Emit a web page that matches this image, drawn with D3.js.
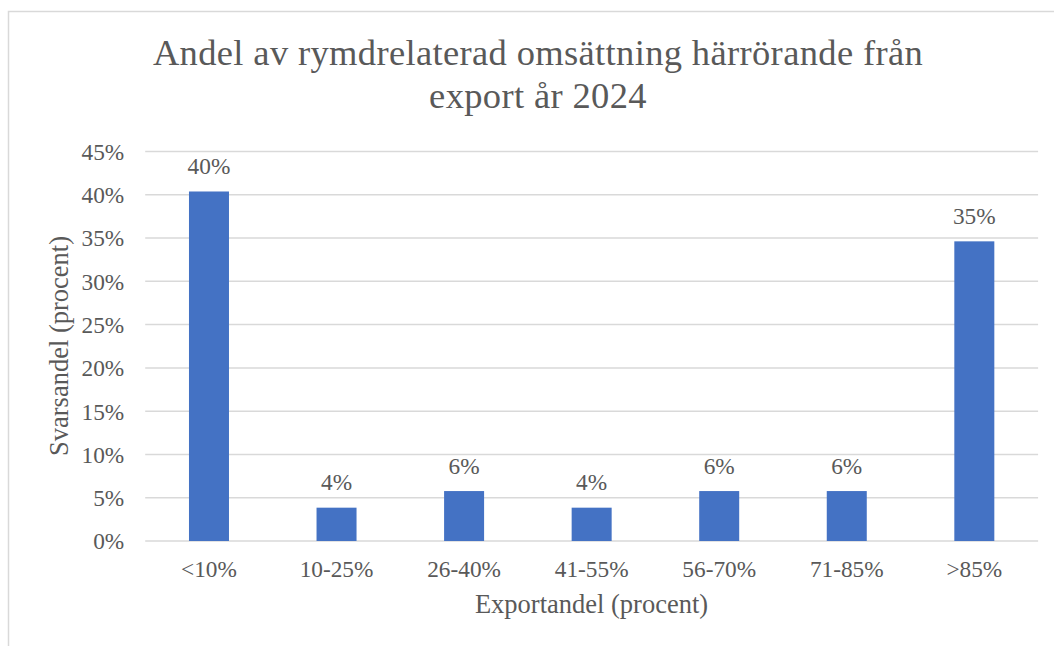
<!DOCTYPE html>
<html>
<head>
<meta charset="utf-8">
<script src="https://cdn.jsdelivr.net/npm/d3@7"></script>
</head>
<body style="margin:0;padding:0;background:#ffffff;">
<svg id="chart" width="1054" height="646" style="display:block;font-family:'Liberation Serif';"></svg>
<script>
// ---- data ----
const categories = ["<10%", "10-25%", "26-40%", "41-55%", "56-70%", "71-85%", ">85%"];
const values = [0.4038, 0.0385, 0.0577, 0.0385, 0.0577, 0.0577, 0.3462];
const dataLabels = ["40%", "4%", "6%", "4%", "6%", "6%", "35%"];
const yTicks = [0, 0.05, 0.10, 0.15, 0.20, 0.25, 0.30, 0.35, 0.40, 0.45];
const titleLines = ["Andel av rymdrelaterad omsättning härrörande från", "export år 2024"];
const yAxisTitle = "Svarsandel (procent)";
const xAxisTitle = "Exportandel (procent)";

const FONT = "Liberation Serif";
const TXT = "#595959";
const SMALL = 23.3;
const AXT = 26.5;

const svg = d3.select("#chart");

// chart border (cropped on right/bottom like the reference)
svg.append("rect")
  .attr("x", 8.5).attr("y", 11.5)
  .attr("width", 1100).attr("height", 700)
  .attr("fill", "none").attr("stroke", "#d9d9d9").attr("stroke-width", 1.5);

const plot = { left: 145.2, right: 1038.1, top: 151.5, bottom: 541 };

const x = d3.scaleBand()
  .domain(categories)
  .range([plot.left, plot.right])
  .paddingInner(0.6864)
  .paddingOuter(0.3432);

const y = d3.scaleLinear()
  .domain([0, 0.45])
  .range([plot.bottom, plot.top]);

// gridlines
svg.append("g")
  .selectAll("line")
  .data(yTicks)
  .join("line")
  .attr("x1", plot.left).attr("x2", plot.right)
  .attr("y1", d => y(d)).attr("y2", d => y(d))
  .attr("stroke", "#d9d9d9").attr("stroke-width", 1.5);

// y axis labels
const yAxis = d3.axisLeft(y)
  .tickValues(yTicks)
  .tickFormat(d3.format(".0%"))
  .tickSize(0)
  .tickPadding(21);
const gy = svg.append("g")
  .attr("transform", `translate(${plot.left},0)`)
  .call(yAxis)
  .attr("font-family", FONT)
  .attr("font-size", SMALL);
gy.select(".domain").remove();
gy.selectAll("text")
  .style("font-family", FONT)
  .attr("fill", TXT)
  .attr("dy", "0.34em");

// bars
svg.append("g")
  .selectAll("rect")
  .data(values)
  .join("rect")
  .attr("x", (d, i) => x(categories[i]))
  .attr("width", x.bandwidth())
  .attr("y", d => y(d))
  .attr("height", d => y(0) - y(d))
  .attr("fill", "#4472c4");

// data labels
svg.append("g")
  .selectAll("text")
  .data(values)
  .join("text")
  .attr("x", (d, i) => x(categories[i]) + x.bandwidth() / 2)
  .attr("y", d => y(d) - 17.5)
  .attr("text-anchor", "middle")
  .style("font-family", FONT)
  .attr("font-size", SMALL)
  .attr("fill", TXT)
  .text((d, i) => dataLabels[i]);

// x axis labels
const xAxis = d3.axisBottom(x).tickSize(0).tickPadding(0);
const gx = svg.append("g")
  .attr("transform", `translate(0,${plot.bottom})`)
  .call(xAxis)
  .attr("font-family", FONT)
  .attr("font-size", SMALL);
gx.select(".domain").remove();
gx.selectAll("text")
  .style("font-family", FONT)
  .attr("fill", TXT)
  .attr("dy", null)
  .attr("y", 36);

// title
svg.append("text")
  .attr("text-anchor", "middle")
  .style("font-family", FONT)
  .style("letter-spacing", "0.35px")
  .attr("font-size", 36.5)
  .attr("fill", TXT)
  .selectAll("tspan")
  .data(titleLines)
  .join("tspan")
  .attr("x", 538)
  .attr("y", (d, i) => 64.5 + i * 43)
  .text(d => d);

// axis titles
svg.append("text")
  .attr("x", 591.5)
  .attr("y", 613)
  .attr("text-anchor", "middle")
  .style("font-family", FONT)
  .attr("font-size", AXT)
  .attr("fill", TXT)
  .text(xAxisTitle);

svg.append("text")
  .attr("transform", `translate(68,346) rotate(-90)`)
  .attr("text-anchor", "middle")
  .style("font-family", FONT)
  .attr("font-size", AXT)
  .attr("fill", TXT)
  .text(yAxisTitle);
</script>
</body>
</html>
